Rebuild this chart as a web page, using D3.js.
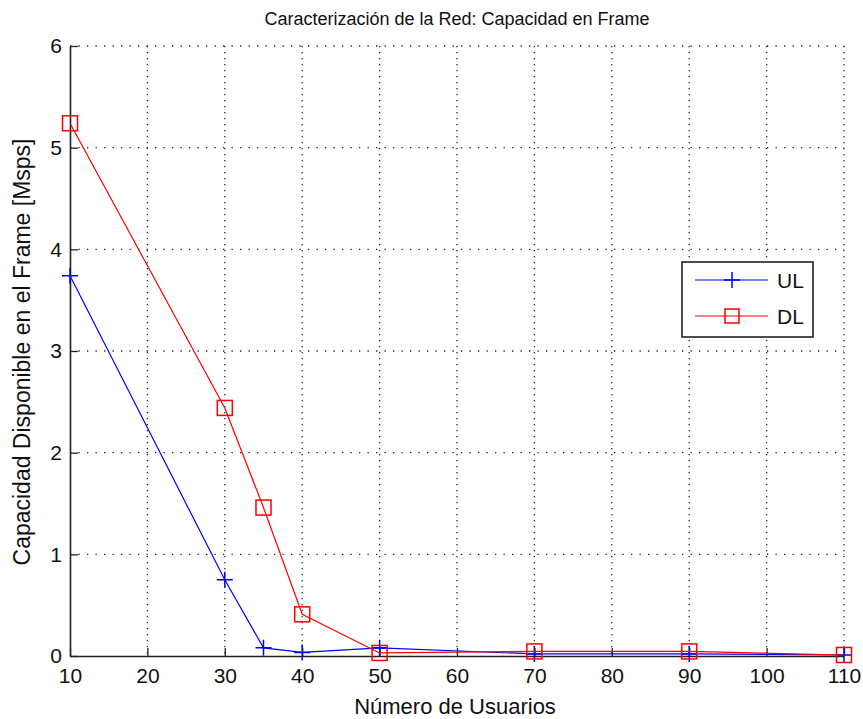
<!DOCTYPE html>
<html>
<head>
<meta charset="utf-8">
<script src="https://cdn.jsdelivr.net/npm/d3@7"></script>
<style>
  body { margin: 0; background: #fff; }
  svg { display: block; font-family: "Liberation Sans", Arial, sans-serif; }
</style>
</head>
<body>
<svg width="863" height="719"></svg>
<script>
// datos
var usuarios = [10, 30, 35, 40, 50, 70, 90, 110];
var capUL = [3.74, 0.75, 0.08, 0.035, 0.08, 0.02, 0.02, 0.01];
var capDL = [5.24, 2.44, 1.46, 0.41, 0.03, 0.045, 0.045, 0.01];
var xTicks = [10, 20, 30, 40, 50, 60, 70, 80, 90, 100, 110];
var yTicks = [0, 1, 2, 3, 4, 5, 6];

var svg = d3.select("svg"),
    margin = {top: 46, right: 19, bottom: 63, left: 70},
    width = +svg.attr("width") - margin.left - margin.right,
    height = +svg.attr("height") - margin.top - margin.bottom;

var x = d3.scaleLinear().domain([10, 110]).range([0, width]);
var y = d3.scaleLinear().domain([0, 6]).range([height, 0]);

var g = svg.append("g")
    .attr("transform", "translate(" + margin.left + "," + margin.top + ")");

// grid punteado
g.selectAll(".vgrid")
    .data(xTicks.slice(1))
    .enter().append("line")
    .attr("x1", function (d) { return x(d); })
    .attr("x2", function (d) { return x(d); })
    .attr("y1", 0).attr("y2", height)
    .attr("stroke", "#222").attr("stroke-width", 1.3)
    .attr("stroke-dasharray", "1.3,4.7");

g.selectAll(".hgrid")
    .data(yTicks.slice(1))
    .enter().append("line")
    .attr("y1", function (d) { return y(d); })
    .attr("y2", function (d) { return y(d); })
    .attr("x1", 0).attr("x2", width)
    .attr("stroke", "#222").attr("stroke-width", 1.3)
    .attr("stroke-dasharray", "1.3,7.2");

// ejes
var xAxis = g.append("g")
    .attr("transform", "translate(0," + height + ")")
    .call(d3.axisBottom(x).tickValues(xTicks).tickFormat(function (d) { return d; })
        .tickSizeInner(-8).tickSizeOuter(0).tickPadding(12));
var yAxis = g.append("g")
    .call(d3.axisLeft(y).tickValues(yTicks).tickFormat(function (d) { return d; })
        .tickSizeInner(-8).tickSizeOuter(0).tickPadding(8));

[xAxis, yAxis].forEach(function (a) {
    a.select(".domain").attr("stroke", "#222").attr("stroke-width", 1.6);
    a.selectAll(".tick line").attr("stroke", "#222").attr("stroke-width", 1.3);
    a.selectAll(".tick text")
        .attr("fill", "#111")
        .style("font-size", "21px")
        .style("font-family", "'Liberation Sans', Arial, sans-serif");
});

var line = d3.line()
    .x(function (d) { return x(d[0]); })
    .y(function (d) { return y(d[1]); });

var ul = usuarios.map(function (u, i) { return [u, capUL[i]]; });
var dl = usuarios.map(function (u, i) { return [u, capDL[i]]; });

function plusPath(s) {
    return "M" + (-s) + ",0H" + s + "M0," + (-s) + "V" + s;
}

// UL
g.append("path").datum(ul)
    .attr("d", line).attr("fill", "none")
    .attr("stroke", "#0000ff").attr("stroke-width", 1.2);
g.selectAll(".ulm").data(ul).enter().append("path")
    .attr("transform", function (d) { return "translate(" + x(d[0]) + "," + y(d[1]) + ")"; })
    .attr("d", plusPath(8))
    .attr("stroke", "#0000ff").attr("stroke-width", 1.5).attr("fill", "none");

// DL
g.append("path").datum(dl)
    .attr("d", line).attr("fill", "none")
    .attr("stroke", "#ff0000").attr("stroke-width", 1.2);
g.selectAll(".dlm").data(dl).enter().append("rect")
    .attr("x", function (d) { return x(d[0]) - 7.5; })
    .attr("y", function (d) { return y(d[1]) - 7.5; })
    .attr("width", 15).attr("height", 15)
    .attr("stroke", "#ff0000").attr("stroke-width", 1.5).attr("fill", "none");

// leyenda
var leg = svg.append("g").attr("transform", "translate(682,262)");
leg.append("rect")
    .attr("width", 131).attr("height", 75)
    .attr("fill", "#fff").attr("stroke", "#222").attr("stroke-width", 1.6);
var items = [
    {name: "UL", color: "#0000ff", y: 18},
    {name: "DL", color: "#ff0000", y: 54}
];
items.forEach(function (it) {
    leg.append("line")
        .attr("x1", 13).attr("x2", 86).attr("y1", it.y).attr("y2", it.y)
        .attr("stroke", it.color).attr("stroke-width", 1.2);
    leg.append("text")
        .attr("x", 95).attr("y", it.y).attr("dy", "0.36em")
        .style("font-size", "21px").attr("fill", "#111")
        .text(it.name);
});
leg.append("path")
    .attr("transform", "translate(50,18)")
    .attr("d", plusPath(8))
    .attr("stroke", "#0000ff").attr("stroke-width", 1.5);
leg.append("rect")
    .attr("x", 43).attr("y", 47).attr("width", 14).attr("height", 14)
    .attr("fill", "none").attr("stroke", "#ff0000").attr("stroke-width", 1.5);

// textos
svg.append("text")
    .attr("x", margin.left + width / 2).attr("y", 25)
    .attr("text-anchor", "middle")
    .style("font-size", "18px").attr("fill", "#111")
    .text("Caracterización de la Red: Capacidad en Frame");

svg.append("text")
    .attr("x", 455).attr("y", 714)
    .attr("text-anchor", "middle")
    .style("font-size", "22px").attr("fill", "#111")
    .text("Número de Usuarios");

svg.append("text")
    .attr("transform", "translate(30," + 352 + ") rotate(-90)")
    .attr("text-anchor", "middle")
    .style("font-size", "23px").attr("fill", "#111")
    .text("Capacidad Disponible en el Frame [Msps]");
</script>
</body>
</html>
